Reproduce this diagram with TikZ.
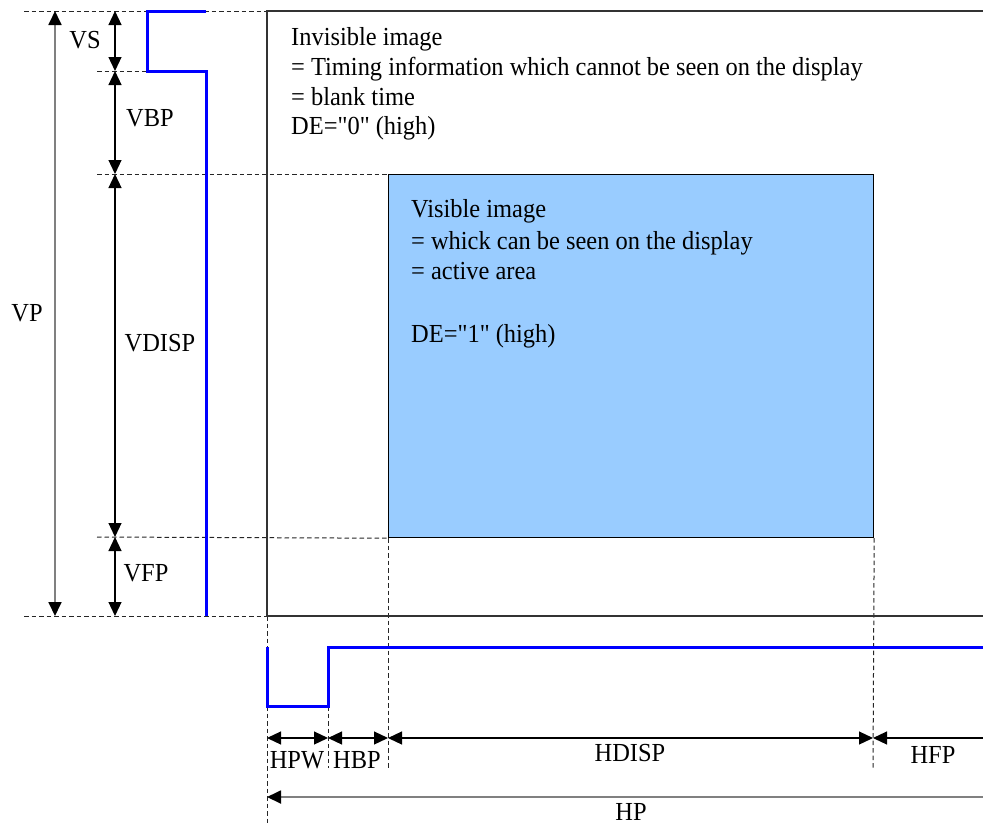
\documentclass[tikz,border=0pt]{standalone}
\usepackage{fontspec}
\setmainfont[FakeStretch=0.94,Ligatures=TeXOff]{Liberation Serif}
\usetikzlibrary{arrows.meta}
\definecolor{boxblue}{HTML}{99CCFF}
\definecolor{framegray}{HTML}{333333}
\definecolor{dimgray}{HTML}{808080}
\tikzset{
  guide/.style={draw=black!85, line width=1pt, dash pattern=on 4.5pt off 3pt},
  frame/.style={draw=framegray, line width=1.8pt},
  sig/.style={draw=blue, line width=3pt},
  dim/.style={draw=black, line width=1.2pt, {Triangle[length=14pt,width=13pt]}-{Triangle[length=14pt,width=13pt]}},
  dimgrey/.style={draw=dimgray, line width=1.8pt, {Triangle[length=14pt,width=13pt,color=black]}-{Triangle[length=14pt,width=13pt,color=black]}},
  lbl/.style={inner sep=0pt, font=\fontsize{26}{31}\selectfont},
  txt/.style={inner sep=0pt, anchor=base west, font=\fontsize{26}{31}\selectfont}
}
\begin{document}
\begin{tikzpicture}[x=1pt,y=-1pt]
\useasboundingbox (0,0) rectangle (983,825);
% coordinates
\coordinate (t0) at (24,11);
\coordinate (fTL) at (267,11);
\coordinate (fTR) at (983,11);
\coordinate (fBL) at (267,616);
\coordinate (fBR) at (983,616);
\coordinate (b0) at (24,616);
% visible box
\node[draw=black, line width=1.2pt, fill=boxblue, minimum width=485pt, minimum height=363pt, anchor=north west, inner sep=0pt] (vis) at (388,174) {};
% guides
\draw[guide] (t0) -- (fTL);
\draw[guide] (b0) -- (fBL);
\draw[guide] (97,71) -- (147,71);
\draw[guide] (97,174) -- (vis.north west);
\draw[guide] (97,537) -- (vis.south west);
\draw[guide] (fBL) -- (267,825);
\draw[guide] (328,706) -- (328,768);
\draw[guide] (vis.south west) -- (388,768);
\draw[guide] (vis.south east) -- (873,768);
% frame
\draw[frame] (fTR) -- (fTL) -- (fBL) -- (fBR);
% signals
\draw[sig] (206,11) -- (147,11) -- (147,71) -- (206,71) -- (206,616);
\draw[sig] (267,647) -- (267,706) -- (328,706) -- (328,647) -- (983,647);
% vertical dimensions
\coordinate (vp1) at (55,11); \coordinate (vp2) at (55,616);
\draw[dimgrey] (vp1) -- (vp2);
\coordinate (v0) at (115,11); \coordinate (v1) at (115,71);
\coordinate (v2) at (115,174); \coordinate (v3) at (115,537); \coordinate (v4) at (115,616);
\draw[dim] (v0) -- (v1);
\draw[dim] (v1) -- (v2);
\draw[dim] (v2) -- (v3);
\draw[dim] (v3) -- (v4);
% horizontal dimensions
\coordinate (h0) at (267,738); \coordinate (h1) at (328,738);
\coordinate (h2) at (388,738); \coordinate (h3) at (873,738); \coordinate (h4) at (1005,738);
\draw[dim] (h0) -- (h1);
\draw[dim] (h1) -- (h2);
\draw[dim] (h2) -- (h3);
\draw[dim] (h3) -- (h4);
\coordinate (hp0) at (267,797); \coordinate (hp1) at (1005,797);
\draw[dimgrey] (hp0) -- (hp1);
% labels
\node[lbl] (lVS) at (85,40) {VS};
\node[lbl] (lVBP) at (150,118) {VBP};
\node[lbl] (lVDISP) at (160,343) {VDISP};
\node[lbl] (lVFP) at (146,573) {VFP};
\node[lbl] (lVP) at (27,313) {VP};
\node[lbl] (lHPW) at (297,760) {HPW};
\node[lbl] (lHBP) at (357,760) {HBP};
\node[lbl] (lHDISP) at (630,753) {HDISP};
\node[lbl] (lHFP) at (933,755) {HFP};
\node[lbl] (lHP) at (631,812) {HP};
% texts
\node[txt] (i1) at (291,45) {Invisible image};
\node[txt] (i2) at (291,75) {= Timing information which cannot be seen on the display};
\node[txt] (i3) at (291,105) {= blank time};
\node[txt] (i4) at (291,134) {DE="0" (high)};
\node[txt] (s1) at (411,217) {Visible image};
\node[txt] (s2) at (411,249) {= whick can be seen on the display};
\node[txt] (s3) at (411,279) {= active area};
\node[txt] (s4) at (411,342) {DE="1" (high)};
\end{tikzpicture}
\end{document}
